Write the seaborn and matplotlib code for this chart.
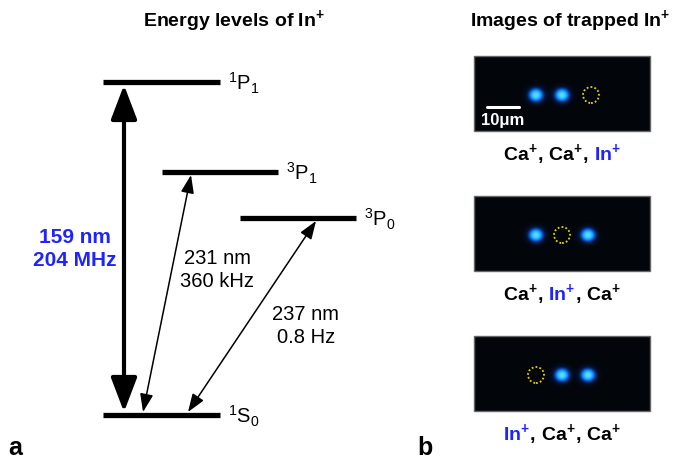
import matplotlib
matplotlib.use("Agg")
import matplotlib.pyplot as plt
import numpy as np
import seaborn as sns
from matplotlib.colors import LinearSegmentedColormap
from matplotlib.offsetbox import AnnotationBbox, HPacker, TextArea
from matplotlib.patches import Circle, FancyArrowPatch, Rectangle

sns.set_theme(style="white")
plt.rcParams["font.family"] = ["Liberation Sans", "DejaVu Sans"]
plt.rcParams["text.color"] = "black"
plt.rcParams["mathtext.fontset"] = "custom"
plt.rcParams["mathtext.rm"] = "Liberation Sans"
plt.rcParams["mathtext.it"] = "Liberation Sans:italic"
plt.rcParams["mathtext.bf"] = "Liberation Sans:bold"

BLUE = "#1f24ff"

# energy levels (schematic heights above the ground state)
level_names = ["1S0", "3P1", "3P0", "1P1"]
level_labels = [r"$^{1}$S$_{0}$", r"$^{3}$P$_{1}$", r"$^{3}$P$_{0}$", r"$^{1}$P$_{1}$"]
level_energy = [0, 243, 197, 333]

# transitions from the ground state
trans_upper = ["1P1", "3P1", "3P0"]
trans_wavelength = ["159 nm", "231 nm", "237 nm"]
trans_linewidth = ["204 MHz", "360 kHz", "0.8 Hz"]

# ion crystals shown in the camera images
ion_orders = [["Ca", "Ca", "In"], ["Ca", "In", "Ca"], ["In", "Ca", "Ca"]]

# layout (pixel based, y measured up from ground level)
GROUND = 415
level_x = {"1S0": (103, 220), "3P1": (162, 278), "3P0": (240, 356), "1P1": (103, 220)}
arrow_x = {"1P1": (124, 124), "3P1": (143, 191), "3P0": (188, 316)}
text_pos = {"1P1": (75, 249), "3P1": (217, 270), "3P0": (306, 326)}


def py(p):
    return GROUND - p


fig = plt.figure(figsize=(6.82, 4.62), dpi=100)
ax = fig.add_axes([0, 0, 1, 1])
ax.set_xlim(0, 682)
ax.set_ylim(py(462), py(0))
ax.axis("off")

energy = dict(zip(level_names, level_energy))
for name, lab in zip(level_names, level_labels):
    x0, x1 = level_x[name]
    e = energy[name]
    ax.plot([x0, x1], [e, e], color="black", lw=3.8, solid_capstyle="butt")
    ax.text(x1 + 8, e - 1, lab, fontsize=14.5, ha="left", va="center")

for upper, wl, lw_txt in zip(trans_upper, trans_wavelength, trans_linewidth):
    xb, xt = arrow_x[upper]
    e = energy[upper]
    if upper == "1P1":
        style = "<|-|>,head_length=21,head_width=8"
        lw = 3.0
        color = BLUE
        weight = "bold"
    else:
        style = "<|-|>,head_length=11,head_width=4"
        lw = 1.1
        color = "black"
        weight = "normal"
    arr = FancyArrowPatch((xb, 3), (xt, e - 3), arrowstyle=style, mutation_scale=1,
                          lw=lw, color="black", shrinkA=0, shrinkB=0)
    ax.add_patch(arr)
    tx, ty = text_pos[upper]
    ax.text(tx, py(ty), wl + "\n" + lw_txt, ha="center", va="center",
            fontsize=15 if upper == "1P1" else 14.5, color=color,
            fontweight=weight, linespacing=1.3)

ax.text(234, py(26), r"Energy levels of In$^{\mathbf{+}}$", ha="center",
        va="baseline", fontsize=14, fontweight="bold")
ax.text(570, py(26), r"Images of trapped In$^{\mathbf{+}}$", ha="center",
        va="baseline", fontsize=14, fontweight="bold")
ax.text(8, py(455), "a", fontsize=18, fontweight="bold", va="baseline")
ax.text(417, py(455), "b", fontsize=18, fontweight="bold", va="baseline")

# camera images
cmap = LinearSegmentedColormap.from_list(
    "ions", ["#02050a", "#02163a", "#0646b4", "#1288f0", "#2ab8ff", "#55d8ff"])
panel_top = [56, 196, 336]
px0, px1, ph = 474, 650, 75
slots = [536, 562, 588]
sigma = 4.6
for order, top in zip(ion_orders, panel_top):
    yy, xx = np.mgrid[0:ph, 0:px1 - px0] + 0.5
    img = np.zeros_like(xx)
    cy = 39
    for ion, sx in zip(order, slots):
        if ion == "Ca":
            img += np.exp(-((xx - (sx - px0)) ** 2 / (2 * (sigma * 1.1) ** 2)
                            + (yy - cy) ** 2 / (2 * sigma ** 2)))
    ax.imshow(img, cmap=cmap, vmin=0, vmax=0.95, extent=(px0, px1, py(top + ph), py(top)),
              origin="upper", aspect="auto", interpolation="bilinear", zorder=1)
    ax.add_patch(Rectangle((px0, py(top + ph)), px1 - px0, ph, fill=False,
                           ec="#666666", lw=1, zorder=2))
    for ion, sx in zip(order, slots):
        if ion == "In":
            ax.add_patch(Circle((sx + (3 if sx == slots[-1] else 0), py(top + cy)), 8,
                                fill=False, ec="#e6d200", lw=1.3, ls=(0, (1, 1.2)), zorder=3))

    parts = []
    for i, ion in enumerate(order):
        c = BLUE if ion == "In" else "black"
        parts.append(TextArea(ion + r"$^{\mathbf{+}}$",
                              textprops=dict(color=c, fontsize=14, fontweight="bold")))
        if i < len(order) - 1:
            parts.append(TextArea(", ", textprops=dict(color="black", fontsize=14,
                                                       fontweight="bold")))
    pack = HPacker(children=parts, align="baseline", pad=0, sep=0)
    ab = AnnotationBbox(pack, (562, py(top + 97)), frameon=False, box_alignment=(0.5, 0.5))
    ax.add_artist(ab)

# scale bar in first image
ax.plot([487, 519], [py(107), py(107)], color="white", lw=2.2, zorder=4)
ax.text(503, py(120), "10μm", color="white", fontsize=12, fontweight="bold",
        ha="center", va="center", zorder=4)

fig.savefig("out.png", dpi=100)
